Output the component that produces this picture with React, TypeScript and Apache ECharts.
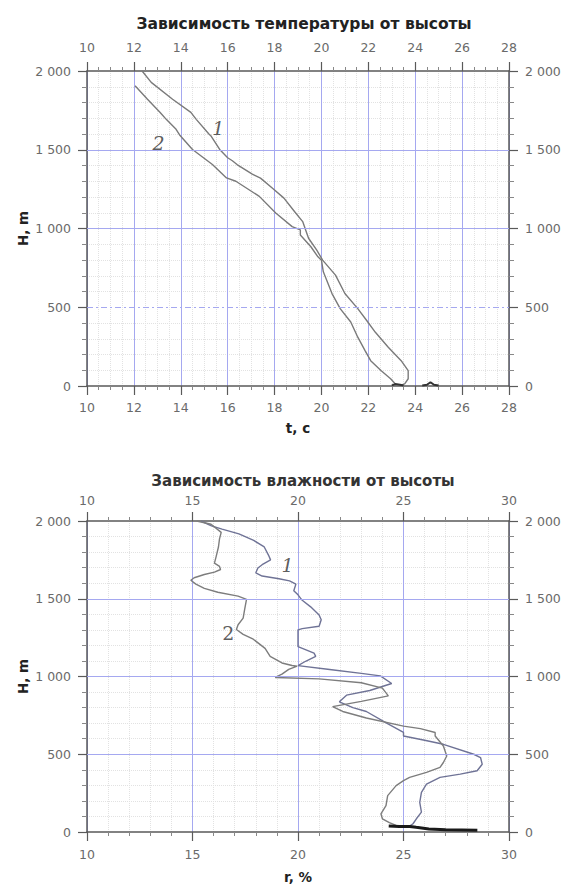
import React, { useEffect, useRef } from "react";
import * as echarts from "echarts";

// ---------- Data ----------
const titleTemp = "Зависимость температуры от высоты";
const titleHum = "Зависимость влажности от высоты";
const tempAxisName = "t, c";
const humAxisName = "r, %";
const heightAxisName = "H, m";

// Temperature chart: [t, H]
const tempCurve1: [number, number][] = [
  [12.35, 2000], [12.74, 1928], [13.65, 1821], [14.43, 1737], [14.66, 1693], [15.2, 1600], [15.3, 1585],
  [15.66, 1502], [16.0, 1449], [16.2, 1430], [16.4, 1406], [17.05, 1345], [17.4, 1320], [17.9, 1257],
  [18.4, 1193], [18.85, 1108], [19.2, 1044], [19.3, 1002], [19.45, 938], [19.8, 863], [20.05, 799],
  [20.6, 704], [21.0, 587], [21.55, 491], [21.93, 416], [22.3, 341], [22.85, 246], [23.4, 161],
  [23.7, 97], [23.7, 46], [23.55, 14], [23.4, 5],
];
const tempCurve2: [number, number][] = [
  [12.05, 1906], [12.58, 1821], [13.12, 1737], [13.38, 1693], [13.8, 1630], [13.97, 1590], [14.5, 1502],
  [15.35, 1406], [15.95, 1321], [16.35, 1300], [17.35, 1204], [18.05, 1098], [18.75, 1012], [19.1, 991],
  [19.1, 959], [19.55, 884], [19.85, 820], [20.0, 799], [20.08, 725], [20.45, 587], [20.8, 491],
  [21.25, 406], [21.55, 310], [21.86, 225], [22.1, 161], [22.55, 97], [22.95, 46], [23.2, 5],
];
const tempGround1: [number, number][] = [[23.0, 4], [23.15, 12], [23.35, 8], [23.5, 3]];
const tempGround2: [number, number][] = [[24.3, 3], [24.5, 8], [24.65, 24], [24.8, 8], [25.0, 3]];
const tempLabel1: [number, number] = [15.6, 1640];
const tempLabel2: [number, number] = [13.05, 1545];
const tempGridLines = [500, 1000, 1500];

// Humidity chart: [r, H]
const humCurve1: [number, number][] = [
  [15.4, 2000], [15.9, 1969], [16.4, 1948], [17.2, 1917], [17.9, 1875], [18.4, 1833], [18.6, 1781],
  [18.7, 1750], [18.3, 1719], [18.1, 1698], [18.0, 1667], [18.3, 1646], [19.1, 1629], [19.6, 1615],
  [19.9, 1594], [19.8, 1552], [20.0, 1525], [20.2, 1490], [20.6, 1448], [21.0, 1396], [21.1, 1365],
  [21.0, 1323], [20.2, 1308], [20.0, 1300], [20.0, 1192], [20.76, 1150], [20.84, 1129], [20.36, 1098],
  [20.0, 1070], [21.5, 1045], [23.0, 1020], [23.9, 1004], [24.44, 955], [23.4, 910], [22.3, 880],
  [21.96, 837], [22.6, 800], [23.24, 775], [24.2, 700], [25.0, 640], [25.0, 617], [26.0, 590],
  [26.89, 564], [28.33, 500], [28.65, 479], [28.73, 436], [28.49, 394], [27.69, 372], [26.73, 351],
  [26.09, 308], [25.85, 255], [25.77, 191], [25.85, 128], [25.61, 85], [25.45, 53], [25.29, 38],
];
const humCurve2: [number, number][] = [
  [15.2, 2000], [15.88, 1979], [16.36, 1927], [16.28, 1885], [16.23, 1833], [16.12, 1771], [16.04, 1729],
  [16.28, 1708], [16.33, 1688], [16.04, 1671], [15.56, 1656], [15.08, 1635], [14.92, 1619], [15.16, 1594],
  [15.56, 1567], [16.2, 1542], [17.16, 1517], [17.56, 1496], [17.48, 1438], [17.4, 1375], [17.16, 1333],
  [17.08, 1302], [17.4, 1271], [17.88, 1240], [18.44, 1181], [18.68, 1129], [19.24, 1087], [19.72, 1071],
  [19.96, 1067], [19.56, 1046], [19.24, 1015], [18.92, 994], [21.0, 985], [23.0, 960], [24.0, 925],
  [24.28, 875], [23.0, 840], [21.64, 806], [22.12, 775], [23.24, 733], [25.0, 681], [25.8, 665],
  [26.5, 640], [26.5, 617], [26.89, 553], [27.05, 489], [26.89, 447], [26.73, 415], [26.09, 383],
  [25.29, 351], [25.0, 330], [24.65, 298], [24.25, 234], [24.17, 170], [23.93, 117], [24.0, 85],
  [24.33, 60], [24.65, 42],
];
const humGround: [number, number][] = [
  [24.3, 38], [24.8, 35], [25.3, 36], [25.6, 30], [26.2, 20], [27.0, 14], [28.5, 11],
];
const humLabel1: [number, number] = [19.5, 1720];
const humLabel2: [number, number] = [16.7, 1280];
const humGridLines = [500, 1000, 1500];

const tempX = { min: 10, max: 28, interval: 2, minor: 4 };
const humX = { min: 10, max: 30, interval: 5, minor: 5 };
const heightY = { min: 0, max: 2000, interval: 500, minor: 5 };

// ---------- Styles ----------
const FONT = "DejaVu Sans";
const GRID_BLUE = "#a5a8f0";
const AXIS_COLOR = "#5a5a5a";
const LABEL_COLOR = "#6a6a6a";
const LABEL_SIZE = 12.5;

const fmtThousands = (v: number) => String(v).replace(/\B(?=(\d{3})+(?!\d))/g, " ");

function xAxes(gridIndex: number, cfg: typeof tempX, name: string, nameGap: number, topMargin: number, botMargin: number) {
  const common = {
    gridIndex,
    type: "value",
    min: cfg.min,
    max: cfg.max,
    interval: cfg.interval,
    axisLine: { show: true, onZero: false, lineStyle: { color: AXIS_COLOR, width: 1.5 } },
    axisTick: { show: true, length: 9, lineStyle: { color: AXIS_COLOR, width: 1.2 } },
    minorTick: { show: true, splitNumber: cfg.minor, length: 4, lineStyle: { color: "#888" } },
    axisLabel: { color: LABEL_COLOR, fontSize: LABEL_SIZE, fontFamily: FONT },
  };
  return [
    {
      ...common,
      position: "bottom",
      axisLabel: { ...common.axisLabel, margin: botMargin },
      splitLine: { show: true, lineStyle: { color: GRID_BLUE, width: 1 } },
      minorSplitLine: { show: true, lineStyle: { color: "#e2e2e2", type: "dotted" } },
      name,
      nameLocation: "middle",
      nameGap,
      nameMoveOverlap: false,
      nameTextStyle: { color: "#222", fontWeight: "bold", fontSize: 13.5, fontFamily: FONT },
    },
    {
      ...common,
      position: "top",
      axisLabel: { ...common.axisLabel, margin: topMargin },
      splitLine: { show: false },
    },
  ];
}

function yAxes(gridIndex: number) {
  const common = {
    gridIndex,
    type: "value",
    min: heightY.min,
    max: heightY.max,
    interval: heightY.interval,
    axisLine: { show: true, onZero: false, lineStyle: { color: AXIS_COLOR, width: 1.5 } },
    axisTick: { show: true, length: 9, lineStyle: { color: AXIS_COLOR, width: 1.2 } },
    minorTick: { show: true, splitNumber: heightY.minor, length: 5, lineStyle: { color: "#888" } },
    axisLabel: { color: LABEL_COLOR, fontSize: LABEL_SIZE, fontFamily: FONT, margin: 16, formatter: fmtThousands },
  };
  return [
    {
      ...common,
      position: "left",
      splitLine: { show: false },
      minorSplitLine: { show: true, lineStyle: { color: "#e2e2e2", type: "dotted" } },
      name: heightAxisName,
      nameLocation: "middle",
      nameRotate: 90,
      nameGap: 57,
      nameMoveOverlap: false,
      nameTextStyle: { color: "#222", fontWeight: "bold", fontSize: 13.5, fontFamily: FONT },
    },
    { ...common, position: "right", splitLine: { show: false } },
  ];
}

function curve(data: [number, number][], xi: number, yi: number, color: string, width = 1.4, z = 3) {
  return {
    type: "line",
    xAxisIndex: xi,
    yAxisIndex: yi,
    data,
    symbol: "none",
    smooth: false,
    z,
    lineStyle: { color, width },
    silent: true,
  };
}

function gridLines(values: number[], xi: number, yi: number, dashed500: boolean) {
  return {
    type: "line",
    xAxisIndex: xi,
    yAxisIndex: yi,
    data: [],
    z: 1,
    silent: true,
    markLine: {
      silent: true,
      symbol: "none",
      label: { show: false },
      lineStyle: { color: GRID_BLUE, width: 1, type: "solid" },
      data: values.map((v) =>
        dashed500 && v === 500
          ? { yAxis: v, lineStyle: { color: GRID_BLUE, width: 1, type: [6, 3, 2, 3] } }
          : { yAxis: v }
      ),
    },
  };
}

function textMark(pt: [number, number], text: string, xi: number, yi: number, italic: boolean) {
  return {
    type: "scatter",
    xAxisIndex: xi,
    yAxisIndex: yi,
    data: [pt],
    symbolSize: 0,
    silent: true,
    z: 5,
    label: {
      show: true,
      position: "inside",
      formatter: text,
      color: "#333",
      fontSize: 19,
      fontStyle: italic ? "italic" : "normal",
      fontFamily: "DejaVu Serif",
    },
  };
}

export default function App() {
  const ref = useRef<HTMLDivElement>(null);
  useEffect(() => {
    if (!ref.current) return;
    const chart = echarts.init(ref.current, undefined, { renderer: "svg" });
    const option = {
      animation: false,
      backgroundColor: "#fff",
      title: [
        {
          text: titleTemp,
          left: 299,
          top: 11,
          textAlign: "center",
          textStyle: { color: "#222", fontSize: 15.5, fontWeight: "bold", fontFamily: FONT },
        },
        {
          text: titleHum,
          left: 298,
          top: 468,
          textAlign: "center",
          textStyle: { color: "#333", fontSize: 15, fontWeight: "bold", fontFamily: FONT },
        },
      ],
      grid: [
        { left: 87, top: 71, width: 422, height: 315 },
        { left: 87, top: 521, width: 422, height: 315 },
      ],
      xAxis: [...xAxes(0, tempX, tempAxisName, 35, 17, 15), ...xAxes(1, humX, humAxisName, 38, 14, 16)],
      yAxis: [...yAxes(0), ...yAxes(1)],
      series: [
        gridLines(tempGridLines, 0, 0, true),
        curve(tempCurve1, 0, 0, "#7a7a7a"),
        curve(tempCurve2, 0, 0, "#7a7a7a"),
        curve(tempGround1, 0, 0, "#333", 2),
        curve(tempGround2, 0, 0, "#333", 2),
        textMark(tempLabel1, "1", 0, 0, true),
        textMark(tempLabel2, "2", 0, 0, true),
        gridLines(humGridLines, 2, 2, false),
        curve(humCurve1, 2, 2, "#6f7396"),
        curve(humCurve2, 2, 2, "#7d7d7d"),
        curve(humGround, 2, 2, "#1a1a1a", 3),
        textMark(humLabel1, "1", 2, 2, true),
        textMark(humLabel2, "2", 2, 2, false),
      ],
    };
    chart.setOption(option as any);
    return () => chart.dispose();
  }, []);
  return (
    <div
      ref={ref}
      style={{ position: "absolute", left: 0, top: 0, width: 564, height: 885, background: "#fff" }}
    />
  );
}
